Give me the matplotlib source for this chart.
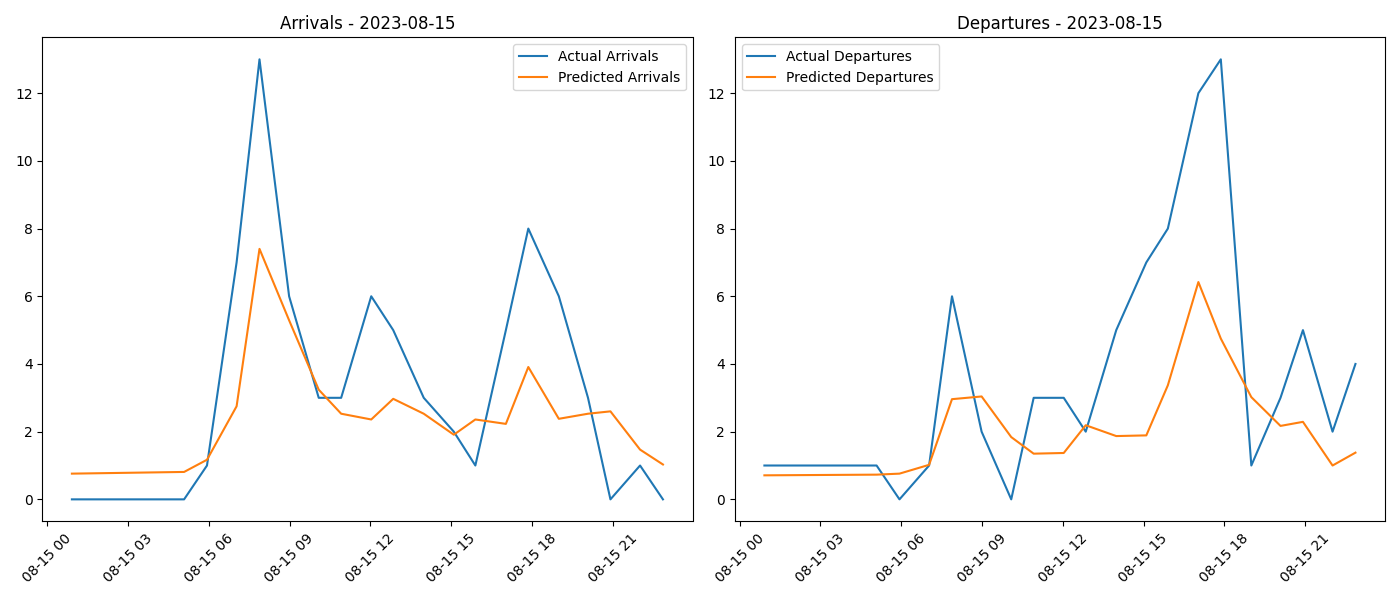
import matplotlib
matplotlib.use('Agg')
import matplotlib.pyplot as plt
import matplotlib.dates as mdates
import pandas as pd

day = '2023-08-15'
# timestamps (HH:MM)
times_hm = ['00:55', '05:05', '05:56', '07:02', '07:53', '08:59', '10:05', '10:55',
            '12:02', '12:51', '13:59', '15:06', '15:54', '17:02', '17:52', '19:00',
            '20:05', '20:55', '22:01', '22:52']

actual_arrivals = [0, 0, 1, 7, 13, 6, 3, 3, 6, 5, 3, 2, 1, 5, 8, 6, 3, 0, 1, 0]
predicted_arrivals = [0.76, 0.81, 1.17, 2.75, 7.40, 5.29, 3.24, 2.53, 2.36, 2.97,
                      2.53, 1.91, 2.36, 2.23, 3.91, 2.38, 2.53, 2.60, 1.47, 1.03]

actual_departures = [1, 1, 0, 1, 6, 2, 0, 3, 3, 2, 5, 7, 8, 12, 13, 1, 3, 5, 2, 4]
predicted_departures = [0.71, 0.73, 0.76, 1.02, 2.96, 3.04, 1.84, 1.35, 1.37, 2.19,
                        1.87, 1.89, 3.37, 6.42, 4.75, 3.02, 2.17, 2.29, 1.00, 1.38]

times = pd.to_datetime([day + ' ' + t for t in times_hm])

fig, (ax1, ax2) = plt.subplots(1, 2, figsize=(14, 6))

ax1.plot(times, actual_arrivals, label='Actual Arrivals')
ax1.plot(times, predicted_arrivals, label='Predicted Arrivals')
ax1.set_title('Arrivals - ' + day)
ax1.legend(loc='upper right')

ax2.plot(times, actual_departures, label='Actual Departures')
ax2.plot(times, predicted_departures, label='Predicted Departures')
ax2.set_title('Departures - ' + day)
ax2.legend(loc='upper left')

for ax in (ax1, ax2):
    ax.xaxis.set_major_locator(mdates.HourLocator(byhour=range(0, 24, 3)))
    ax.xaxis.set_major_formatter(mdates.DateFormatter('%m-%d %H'))
    ax.tick_params(axis='x', rotation=45)

fig.tight_layout()
fig.savefig('out.png', dpi=100)
